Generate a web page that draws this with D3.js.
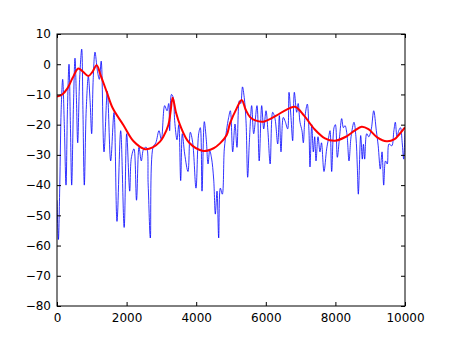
<!DOCTYPE html>
<html>
<head>
<meta charset="utf-8">
<script src="https://cdn.jsdelivr.net/npm/d3@7"></script>
<style>
  body { margin: 0; background: #fff; }
  svg text { font-family: "DejaVu Sans", sans-serif; font-size: 12px; fill: #000; }
</style>
</head>
<body>
<svg id="chart" width="450" height="340"></svg>
<script>
// spectrum (blue): [freq Hz, dB]
const spectrum = [
  [0,-45],[40,-58],[80,-40],[120,-15],[163,-5],[210,-20],[259,-40],[300,-15],[345,0],[385,-20],
  [422,-40],[470,-15],[517,2],[555,-10],[595,-26],[650,-5],[710,5],[745,-15],[785,-40],[840,-15],
  [900,-4],[950,-12],[996,-23],[1040,-5],[1092,4],[1159,-2],[1216,-5],[1270,1],[1351,-29],[1446,-9],
  [1542,-32],[1638,-16],[1724,-52],[1830,-22],[1930,-54],[2002,-23],[2089,-42],[2136,-31],[2212,-28],[2285,-45],
  [2356,-27.5],[2423,-32],[2490,-28],[2567,-27.5],[2620,-40],[2682,-57.5],[2759,-27.5],[2840,-26],[2931,-22],[2998,-25],
  [3094,-13.7],[3161,-15.4],[3210,-13],[3237,-22],[3290,-10],[3340,-11],[3381,-18.7],[3448,-25],[3500,-20],[3554,-38.5],
  [3601,-23],[3669,-29.7],[3764,-35.5],[3831,-22.5],[3900,-26],[3994,-41],[4071,-23],[4118,-21],[4167,-42],[4233,-19],
  [4290,-25],[4340,-33],[4388,-28.6],[4440,-31],[4502,-38],[4550,-49.6],[4598,-42],[4646,-57.5],[4693,-41],[4750,-43],
  [4808,-28],[4870,-22],[4933,-17.6],[4981,-15.4],[5049,-29],[5115,-19.8],[5172,-27.5],[5240,-12.1],[5280,-13],[5330,-7.5],
  [5380,-11],[5431,-18.7],[5479,-37.4],[5530,-25],[5594,-13.7],[5652,-23],[5747,-13.7],[5810,-32],[5882,-13.7],[5940,-21.4],
  [6006,-15.4],[6060,-22],[6125,-33],[6198,-15.9],[6264,-18],[6342,-26.4],[6390,-17],[6437,-29],[6503,-17.6],[6560,-19],
  [6629,-21.4],[6667,-9.3],[6724,-17.6],[6772,-25.3],[6820,-9.3],[6888,-15.9],[6930,-13],[6983,-19.2],[7040,-22],[7078,-26],
  [7130,-17],[7193,-13.2],[7240,-22],[7270,-34],[7320,-20],[7366,-29],[7405,-24],[7443,-32],[7500,-24],[7557,-29],
  [7600,-26],[7672,-35.5],[7749,-28],[7796,-25],[7845,-22],[7893,-35.5],[7960,-21],[8000,-20],[8055,-30.8],[8120,-24],
  [8181,-18],[8230,-21],[8276,-20.3],[8330,-23],[8391,-32],[8450,-24],[8534,-19.2],[8590,-24],[8630,-34],[8659,-43],
  [8727,-23.6],[8773,-31.4],[8805,-26.5],[8841,-31.4],[8900,-23],[8960,-24],[9032,-21.4],[9101,-15.4],[9176,-22],[9230,-27],
  [9290,-34.7],[9340,-29],[9388,-40],[9440,-32],[9490,-33],[9540,-26.4],[9620,-27],[9680,-22],[9722,-19.2],[9770,-24],
  [9820,-22],[9870,-21],[9920,-26],[9962,-31.4],[10000,-22]
];

// envelope (red)
const envelope = [
  [0,-10.7],[150,-10],[300,-8],[450,-4.5],[612,-1.4],[750,-2.5],[900,-3.9],[1020,-2.5],[1140,-0.3],[1250,-3.5],
  [1427,-9.1],[1600,-14.5],[1906,-20.1],[2200,-25.5],[2529,-28.1],[2750,-27.5],[2960,-25.6],[3055,-24],[3200,-20.1],[3260,-16],
  [3324,-11.1],[3420,-16],[3534,-20.1],[3800,-26],[4204,-28.7],[4500,-27.8],[4684,-26.2],[4876,-23.4],[4971,-19.6],[5163,-14.6],
  [5307,-11.8],[5420,-15],[5546,-17.5],[5700,-18.6],[5930,-19],[6300,-17],[6600,-15],[6840,-14.1],[7100,-17],[7400,-21.5],
  [7700,-24.5],[7990,-25.3],[8300,-24],[8550,-22],[8755,-20.7],[8950,-21.5],[9200,-24.2],[9473,-25.5],[9700,-24.8],[9850,-23],
  [10000,-20.9]
];

const xTicks = [0, 2000, 4000, 6000, 8000, 10000];
const yTicks = [10, 0, -10, -20, -30, -40, -50, -60, -70, -80];

const margin = { left: 57, right: 45, top: 34, bottom: 34 };
const width = 450, height = 340;
const svg = d3.select("#chart");

const x = d3.scaleLinear().domain([0, 10000]).range([margin.left, width - margin.right]);
const y = d3.scaleLinear().domain([-80, 10]).range([height - margin.bottom, margin.top]);

svg.append("defs").append("clipPath").attr("id", "clip")
  .append("rect")
  .attr("x", x(0)).attr("y", y(10))
  .attr("width", x(10000) - x(0)).attr("height", y(-80) - y(10));

const plot = svg.append("g").attr("clip-path", "url(#clip)");

const line = d3.line()
  .x(d => x(d[0]))
  .y(d => y(d[1]))
  .curve(d3.curveCatmullRom.alpha(0.5));

plot.append("path")
  .datum(spectrum)
  .attr("d", line)
  .attr("fill", "none")
  .attr("stroke", "#0000ff")
  .attr("stroke-opacity", 0.8)
  .attr("stroke-width", 1);

plot.append("path")
  .datum(envelope)
  .attr("d", line)
  .attr("fill", "none")
  .attr("stroke", "#ff0000")
  .attr("stroke-width", 2);

// axes, ticks inward on all four sides
const tickLen = 4;
const axBottom = svg.append("g").attr("transform", `translate(0,${y(-80)})`)
  .call(d3.axisBottom(x).tickValues(xTicks).tickFormat(d3.format("d")).tickSizeInner(-tickLen).tickSizeOuter(0).tickPadding(7));
const axTop = svg.append("g").attr("transform", `translate(0,${y(10)})`)
  .call(d3.axisTop(x).tickValues(xTicks).tickFormat("").tickSizeInner(-tickLen).tickSizeOuter(0));
const axLeft = svg.append("g").attr("transform", `translate(${x(0)},0)`)
  .call(d3.axisLeft(y).tickValues(yTicks).tickFormat(d3.format("d")).tickSizeInner(-tickLen).tickSizeOuter(0).tickPadding(6));
const axRight = svg.append("g").attr("transform", `translate(${x(10000)},0)`)
  .call(d3.axisRight(y).tickValues(yTicks).tickFormat("").tickSizeInner(-tickLen).tickSizeOuter(0));

[axBottom, axTop, axLeft, axRight].forEach(a => {
  a.select(".domain").remove();
  a.selectAll("line").attr("stroke", "#000");
  a.selectAll("text").attr("font-size", 12).attr("font-family", "DejaVu Sans, sans-serif");
});

svg.append("rect")
  .attr("x", x(0)).attr("y", y(10))
  .attr("width", x(10000) - x(0)).attr("height", y(-80) - y(10))
  .attr("fill", "none").attr("stroke", "#000").attr("stroke-width", 1);
</script>
</body>
</html>
